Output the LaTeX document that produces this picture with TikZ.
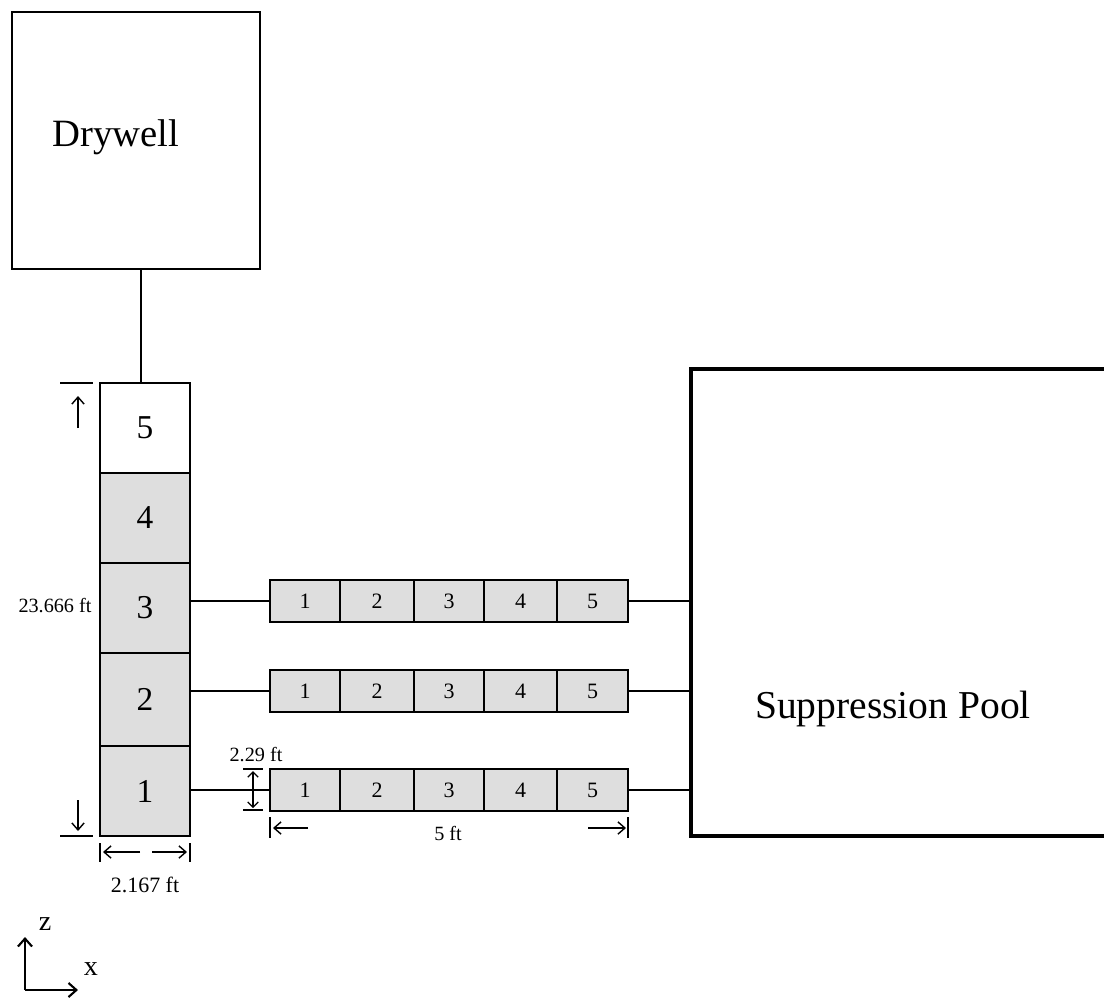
\documentclass[tikz,border=0pt]{standalone}
\usepackage{fontspec}
\setmainfont{Liberation Serif}
\usetikzlibrary{arrows.meta,calc}
\begin{document}
\begin{tikzpicture}[x=0.02cm,y=-0.02cm,
  box/.style={draw,line width=1.6pt,inner sep=0,outer sep=0},
  colcell/.style={draw,line width=1.6pt,fill=cellgray,inner sep=0,outer sep=0,
     minimum width={90*0.02cm},font=\fontsize{19}{21}\selectfont},
  rowcell/.style={draw,line width=1.3pt,fill=cellgray,inner sep=0,outer sep=0,
     minimum height={42*0.02cm},font=\fontsize{12.5}{14}\selectfont},
  link/.style={line width=1.1pt},
  dim/.style={line width=0.6pt},
  dimarrow/.style={line width=0.8pt,-{Straight Barb[length=4pt,width=7pt]}},
  dimlabel/.style={inner sep=0,font=\fontsize{11.5}{13}\selectfont},
  bigtext/.style={inner sep=0,font=\fontsize{22}{24}\selectfont}
]
\definecolor{cellgray}{HTML}{DEDEDE}
\useasboundingbox (0,0) rectangle (1104,998);

% Drywell
\node[box,minimum width={248*0.02cm},minimum height={257*0.02cm}] (dw) at (136,140.5) {};
\node[bigtext,anchor=west] (dwl) at (52,137) {Drywell};

% vertical column
\node[colcell,fill=white,minimum height={90*0.02cm}] (v5) at (145,428) {5};
\node[colcell,minimum height={90*0.02cm}] (v4) at (145,518) {4};
\node[colcell,minimum height={90*0.02cm}] (v3) at (145,608) {3};
\node[colcell,minimum height={93*0.02cm}] (v2) at (145,699.5) {2};
\node[colcell,minimum height={90*0.02cm}] (v1) at (145,791) {1};

% drywell link
\coordinate (dwc) at (141,383);
\draw[link] (dwc) -- (dwc |- dw.south);

% suppression pool
\node[draw,line width=2.3pt,inner sep=0,outer sep=0,minimum width={424*0.02cm},minimum height={467*0.02cm}] (pool) at (903,602.5) {};
\node[bigtext,font=\fontsize{22.5}{25}\selectfont] (pooll) at (893,709) {Suppression Pool};

% horizontal rows
\foreach \r/\y in {ra/601,rb/691,rc/790}{
  \node[rowcell,minimum width={70*0.02cm}] (\r1) at (305,\y) {1};
  \node[rowcell,minimum width={74*0.02cm}] (\r2) at (377,\y) {2};
  \node[rowcell,minimum width={70*0.02cm}] (\r3) at (449,\y) {3};
  \node[rowcell,minimum width={73*0.02cm}] (\r4) at (520.5,\y) {4};
  \node[rowcell,minimum width={71*0.02cm}] (\r5) at (592.5,\y) {5};
}
\draw[link] (ra1.west) -- (ra1.west -| v3.east);
\draw[link] (rb1.west) -- (rb1.west -| v2.east);
\draw[link] (rc1.west) -- (rc1.west -| v1.east);
\draw[link] (ra5.east) -- (ra5.east -| pool.west);
\draw[link] (rb5.east) -- (rb5.east -| pool.west);
\draw[link] (rc5.east) -- (rc5.east -| pool.west);

% height dimension of column
\coordinate (ht) at (60,383);
\coordinate (hb) at (60,836);
\draw[dim] (ht) -- ++(33,0);
\draw[dim] (hb) -- ++(33,0);
\coordinate (hua) at (78,428);
\coordinate (hub) at (78,396);
\coordinate (hda) at (78,800);
\coordinate (hdb) at (78,831);
\draw[dimarrow] (hua) -- (hub);
\draw[dimarrow] (hda) -- (hdb);
\node[dimlabel] (hl) at (55,606) {23.666 ft};

% width dimension of column
\coordinate (wl) at (100,843);
\coordinate (wr) at (190,843);
\draw[dim] (wl) -- ++(0,19);
\draw[dim] (wr) -- ++(0,19);
\coordinate (wla) at (140,852);
\coordinate (wlb) at (103,852);
\coordinate (wra) at (152,852);
\coordinate (wrb) at (187,852);
\draw[dimarrow] (wla) -- (wlb);
\draw[dimarrow] (wra) -- (wrb);
\node[dimlabel,font=\fontsize{12.5}{14}\selectfont] (wlab) at (145,885) {2.167 ft};

% 2.29 ft
\coordinate (tt) at (243,769);
\coordinate (tb) at (243,810);
\draw[dim] (tt) -- ++(20,0);
\draw[dim] (tb) -- ++(20,0);
\coordinate (tta) at (253,771);
\coordinate (ttb) at (253,808);
\draw[line width=0.7pt,{Straight Barb[length=3pt,width=6pt]}-{Straight Barb[length=3pt,width=6pt]}] (tta) -- (ttb);
\node[dimlabel] (tlab) at (256,755) {2.29 ft};

% 5 ft
\coordinate (fl) at (270,817);
\coordinate (fr) at (628,817);
\draw[dim] (fl) -- ++(0,21);
\draw[dim] (fr) -- ++(0,21);
\coordinate (fla) at (308,828);
\coordinate (flb) at (273,828);
\coordinate (fra) at (588,828);
\coordinate (frb) at (626,828);
\draw[dimarrow] (fla) -- (flb);
\draw[dimarrow] (fra) -- (frb);
\node[dimlabel] (flab) at (448,833) {5 ft};

% axes
\coordinate (o) at (25,990);
\coordinate (oz) at (25,937);
\coordinate (ox) at (78,990);
\draw[line width=1.2pt,-{Straight Barb[length=4.5pt,width=8pt]}] (o) -- (oz);
\draw[line width=1.2pt,-{Straight Barb[length=4.5pt,width=8pt]}] (o) -- (ox);
\node[inner sep=0,font=\fontsize{16}{18}\selectfont] (zl) at (45,924) {z};
\node[inner sep=0,font=\fontsize{16}{18}\selectfont] (xl) at (91,969) {x};
\end{tikzpicture}
\end{document}
